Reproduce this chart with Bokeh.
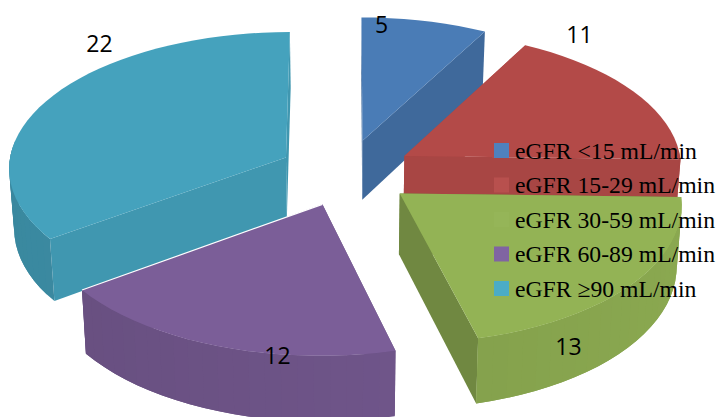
import math
from bokeh.models import ColumnDataSource, Range1d
from bokeh.plotting import figure
from bokeh.embed import file_html
from bokeh.resources import INLINE
from bokeh.core.properties import value

# eGFR groups and patient counts
categories = ["eGFR <15 mL/min", "eGFR 15-29 mL/min", "eGFR 30-59 mL/min",
              "eGFR 60-89 mL/min", "eGFR \u226590 mL/min"]
counts = [5, 11, 13, 12, 22]
colors = ["#4a7cb6", "#b34a48", "#93b355", "#7b5e98", "#45a2bd"]
swatches = ["#4f81bd", "#b8504e", "#95b558", "#8064a2", "#4bacc6"]

# Pie geometry in screen pixels
CX, CY = 345.5, 172.0
RADIUS = 278.0
EXPLODE = 68.0
TILT = 0.49
PERSPECTIVE = 0.07 / RADIUS
DEPTH = 60.0
BASE_SHRINK = 0.985


def project(u, v, bottom=False):
    s = 1.0 / (1.0 + PERSPECTIVE * v)
    x = u * s
    y = -TILT * v * s
    if bottom:
        return CX + x * BASE_SHRINK, CY + y + DEPTH * s
    return CX + x, CY + y


def shade(hex_color, f):
    r, g, b = (int(hex_color[i:i + 2], 16) for i in (1, 3, 5))
    return "#%02x%02x%02x" % (round(r * f), round(g * f), round(b * f))


total = sum(counts)
bounds = [0.0]
for c in counts:
    bounds.append(bounds[-1] + 360.0 * c / total)

# Brightness of each slice's two straight cut faces
radial_shade = [(0.85, 0.85), (0.94, 0.94), (0.76, 0.76), (0.85, 0.85), (0.93, 0.93)]


def slice_faces(i):
    """Polygons of one slice, furthest back first."""
    a0, a1 = bounds[i], bounds[i + 1]
    mid = math.radians((a0 + a1) / 2)
    ou, ov = EXPLODE * math.sin(mid), EXPLODE * math.cos(mid)
    n = max(4, int((a1 - a0) / 3))
    angles = [math.radians(a0 + (a1 - a0) * k / n) for k in range(n + 1)]
    rim = [(ou + RADIUS * math.sin(t), ov + RADIUS * math.cos(t)) for t in angles]
    faces = []
    for (u, v), f in ((rim[0], radial_shade[i][0]), (rim[-1], radial_shade[i][1])):
        pts = [project(ou, ov), project(u, v), project(u, v, True), project(ou, ov, True)]
        faces.append((pts, shade(colors[i], f)))
    # Curved outer wall: only the part facing the viewer, each strip lapping the next
    for k in range(n):
        tm = (angles[k] + angles[k + 1]) / 2
        if math.cos(tm) > 0.05:
            continue
        f = 0.89 + 0.05 * math.sin(tm)
        j = min(k + 2, n)
        strip = rim[k:j + 1]
        pts = [project(*q) for q in strip] + [project(*q, True) for q in reversed(strip)]
        faces.append((pts, shade(colors[i], f)))
    top = [project(ou, ov)] + [project(u, v) for u, v in rim]
    faces.append((top, colors[i]))
    return faces


p = figure(width=718, height=417, output_backend="svg", toolbar_location=None,
           x_range=Range1d(0, 718), y_range=Range1d(417, 0),
           min_border=0, outline_line_color=None, background_fill_color="white")
p.axis.visible = False
p.grid.visible = False

xs, ys, fills = [], [], []
for i in (0, 1, 4, 3, 2):
    for pts, col in slice_faces(i):
        xs.append([q[0] for q in pts])
        ys.append([q[1] for q in pts])
        fills.append(col)
p.patches("xs", "ys", fill_color="fills", line_color=None,
          source=ColumnDataSource(dict(xs=xs, ys=ys, fills=fills)))

# Thin light seam where the purple slice's back edge meets the teal wall
a = math.radians(bounds[4])
m = math.radians((bounds[3] + bounds[4]) / 2)
ou, ov = EXPLODE * math.sin(m), EXPLODE * math.cos(m)
seam = [project(ou, ov), project(ou + RADIUS * math.sin(a), ov + RADIUS * math.cos(a))]
p.line([q[0] for q in seam], [q[1] for q in seam], line_color="white", line_width=1.2)

# Value labels
label_x = [381, 579, 568, 277, 99]
label_y = [24, 34, 346, 355, 43]
p.text(label_x, label_y, text=[str(c) for c in counts], text_align="center",
       text_baseline="middle", text_color="black",
       text_font=value("Open Sans"), text_font_size="23px")

# Legend
row_y = [150 + 34.5 * i for i in range(len(categories))]
p.rect([501] * 5, row_y, width=15, height=15, fill_color=swatches, line_color=None)
p.text([514.5] * 5, row_y, text=categories, text_baseline="middle", text_color="black",
       text_font=value("Liberation Serif"), text_font_size="23.7px")

open("out.html", "w").write(file_html(p, INLINE))
